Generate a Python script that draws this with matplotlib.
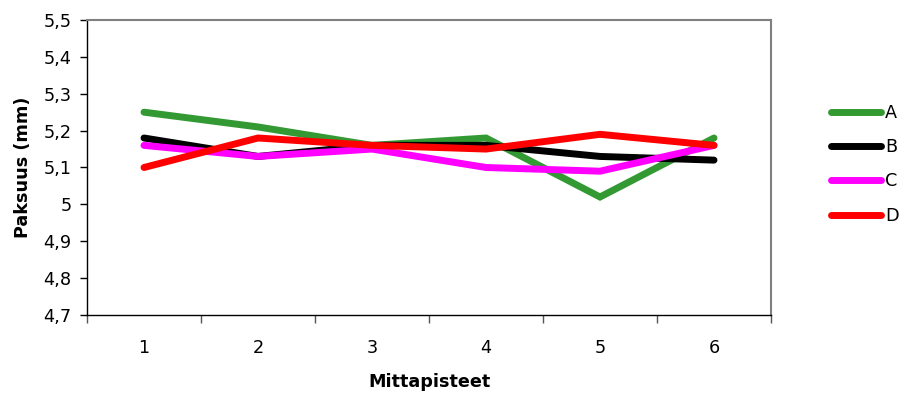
import matplotlib
matplotlib.use("Agg")
import matplotlib.pyplot as plt
from matplotlib.ticker import FixedLocator, FuncFormatter

plt.rcParams['font.family'] = ['DejaVu Sans']

points = [1, 2, 3, 4, 5, 6]
series_names = ["A", "B", "C", "D"]
values_a = [5.25, 5.21, 5.16, 5.18, 5.02, 5.18]
values_b = [5.18, 5.13, 5.16, 5.16, 5.13, 5.12]
values_c = [5.16, 5.13, 5.15, 5.10, 5.09, 5.16]
values_d = [5.10, 5.18, 5.16, 5.15, 5.19, 5.16]
colors = ["#339933", "#000000", "#ff00ff", "#ff0000"]
y_ticks = [4.7, 4.8, 4.9, 5.0, 5.1, 5.2, 5.3, 5.4, 5.5]

FS = 12.7

fig = plt.figure(figsize=(9.07, 3.94), dpi=100)
ax = fig.add_axes([87 / 907, 1 - 315 / 394, (771 - 87) / 907, (315 - 20) / 394])

for name, vals, col in zip(series_names, [values_a, values_b, values_c, values_d], colors):
    ax.plot(points, vals, color=col, lw=5, solid_capstyle='round',
            solid_joinstyle='miter', label=name)

ax.set_xlim(0.5, 6.5)
ax.set_ylim(4.7, 5.5)

# category ticks sit between points, labels centred on points
ax.xaxis.set_major_locator(FixedLocator([0.5 + i for i in range(7)]))
ax.xaxis.set_minor_locator(FixedLocator(points))
ax.xaxis.set_major_formatter(FuncFormatter(lambda v, p: ""))
ax.xaxis.set_minor_formatter(FuncFormatter(lambda v, p: f"{int(round(v))}"))
ax.tick_params(axis='x', which='major', direction='out', length=5.5, width=1, color='#555555')
ax.tick_params(axis='x', which='minor', length=0, pad=17, labelsize=FS)

ax.yaxis.set_major_locator(FixedLocator(y_ticks))
ax.yaxis.set_major_formatter(FuncFormatter(
    lambda v, p: (f"{v:.1f}".rstrip('0').rstrip('.')).replace('.', ',')))
ax.tick_params(axis='y', direction='out', length=5, width=1, labelsize=FS, pad=6)

for side in ['left', 'bottom']:
    ax.spines[side].set_color('#000000')
    ax.spines[side].set_linewidth(1)
for side in ['top', 'right']:
    ax.spines[side].set_color('#808080')
    ax.spines[side].set_linewidth(1.5)

ax.set_xlabel("Mittapisteet", fontsize=FS, fontweight='bold', labelpad=12)
ax.set_ylabel("Paksuus (mm)", fontsize=FS, fontweight='bold', labelpad=8)

leg = fig.legend(loc='upper left', bbox_to_anchor=(831 / 907, 1 - 104 / 394),
                 frameon=False, fontsize=FS, handlelength=2.85, handletextpad=0.2,
                 labelspacing=0.92, borderaxespad=0, borderpad=0)

fig.savefig("out.png", dpi=100)
